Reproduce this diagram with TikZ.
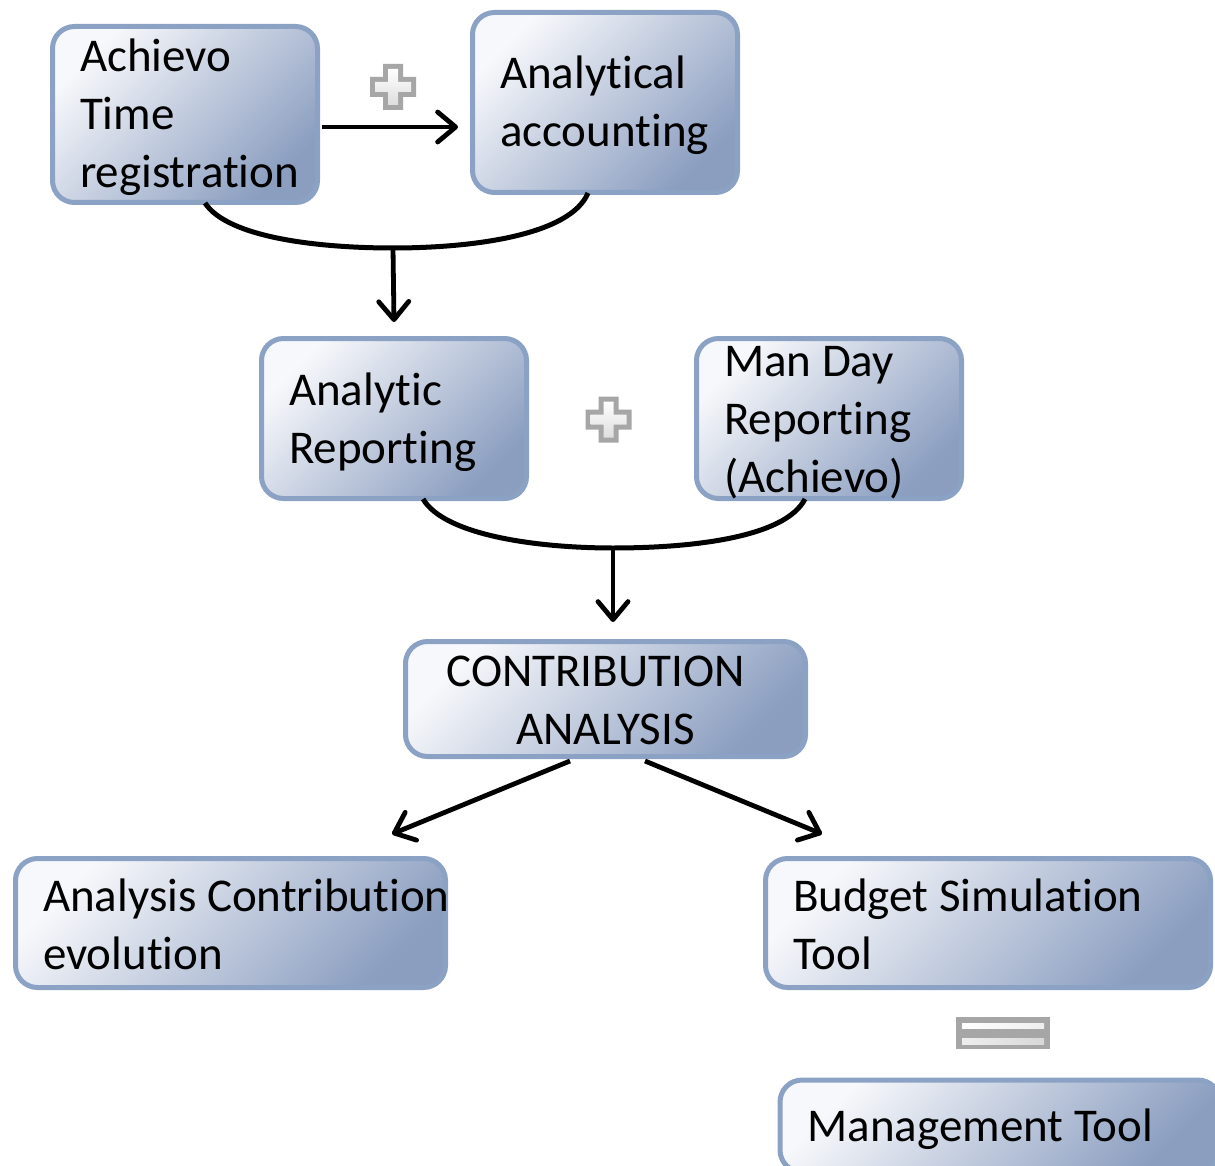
\documentclass[tikz,border=0pt]{standalone}
\usepackage{fontspec}
\setmainfont{Carlito}[RawFeature={-liga,-clig,-calt,-dlig}]
\usetikzlibrary{arrows.meta,calc}
\definecolor{bordc}{RGB}{139,162,197}
\definecolor{lightc}{RGB}{247,248,251}
\definecolor{darkc}{RGB}{139,158,192}
\definecolor{symgrey}{RGB}{166,166,166}
\definecolor{symlight}{RGB}{238,238,238}
\begin{document}
\begin{tikzpicture}[x=0.5pt,y=-0.5pt,
  box/.style={rounded corners=11pt, draw=bordc, line width=2.5pt,
    top color=lightc, bottom color=darkc, shading angle=45, inner sep=0pt},
  txt/.style={inner sep=0pt, align=flush left,
    font=\fontsize{23.5}{29.1}\selectfont},
  arr/.style={line width=2.4pt, -{Straight Barb[length=9pt,width=15pt,round]}},
  link/.style={line width=2.5pt}]
\clip (0,0) rectangle (1215,1166);
\fill[white] (0,0) rectangle (1215,1166);

% boxes
\node[box, minimum width=132.5pt, minimum height=88pt] (b1) at (185,114.5) {};
\node[txt, text width=105pt] (b1t) at ($(b1.center)+(0,3)$) {Achievo\\Time\\registration};
\node[box, minimum width=132.5pt, minimum height=90pt] (b2) at (605,102.5) {};
\node[txt, text width=105pt] (b2t) at ($(b2.center)+(0,3)$) {Analytical\\accounting};
\node[box, minimum width=132.5pt, minimum height=80pt] (b3) at (394,418.5) {};
\node[txt, text width=105pt] (b3t) at ($(b3.center)+(0,4)$) {Analytic\\Reporting};
\node[box, minimum width=132.5pt, minimum height=80pt] (b4) at (829,418.5) {};
\node[txt, text width=105pt] (b4t) at ($(b4.center)+(0,4)$) {Man Day\\Reporting\\(Achievo)};
\node[box, minimum width=200pt, minimum height=57.5pt] (b5) at (605.5,699) {};
\node[txt, text width=172.5pt, align=flush center] (b5t) at ($(b5.center)+(0,1.5)$)
  {\hspace*{-10pt}CONTRIBUTION\\ANALYSIS};
\node[box, minimum width=215pt, minimum height=64.5pt] (b6) at (230.5,923) {};
\node[txt, text width=187.5pt] (b6t) at ($(b6.center)+(0,1)$) {\mbox{Analysis Contribution}\\evolution};
\node[box, minimum width=222.5pt, minimum height=64.5pt] (b7) at (988,923) {};
\node[txt, text width=195pt] (b7t) at ($(b7.center)+(0,1)$) {Budget Simulation\\Tool};
\node[box, minimum width=220pt, minimum height=46pt] (b8) at (1000,1126) {};
\node[txt, text width=192.5pt] (b8t) at ($(b8.center)+(0,3)$) {Management Tool};

% plus signs
\foreach \cx/\cy in {393/87, 608.5/419.5}{
  \fill[symgrey] (\cx-10,\cy-23) -- (\cx+10,\cy-23) -- (\cx+10,\cy-10) -- (\cx+23,\cy-10)
    -- (\cx+23,\cy+10) -- (\cx+10,\cy+10) -- (\cx+10,\cy+23) -- (\cx-10,\cy+23)
    -- (\cx-10,\cy+10) -- (\cx-23,\cy+10) -- (\cx-23,\cy-10) -- (\cx-10,\cy-10) -- cycle;
  \shade[top color=white, bottom color=symlight!85!gray] (\cx-5,\cy-18) -- (\cx+5,\cy-18) -- (\cx+5,\cy-5) -- (\cx+18,\cy-5)
    -- (\cx+18,\cy+5) -- (\cx+5,\cy+5) -- (\cx+5,\cy+18) -- (\cx-5,\cy+18)
    -- (\cx-5,\cy+5) -- (\cx-18,\cy+5) -- (\cx-18,\cy-5) -- (\cx-5,\cy-5) -- cycle;
}

% equals sign
\fill[symgrey] (956,1017) rectangle (1050,1049);
\shade[left color=white, right color=symlight] (962,1023) rectangle (1044,1028);
\shade[left color=symlight, right color=symlight!80!gray] (962,1038) rectangle (1044,1044);

% connectors
\draw[arr] ($(b1.east)+(2,12.5)$) -- ($(b2.west)+(-12,24.5)$);

\coordinate (j1) at (393,248);
\draw[link] ($(b1.south)+(20,-2)$) .. controls (228,238) and (320,248) .. (j1)
  .. controls (470,248) and (570,236) .. ($(b2.south)+(-17,-2)$);
\draw[arr] (j1) -- ($(b3.north)+(0,-14)$);

\coordinate (j2) at (613,548);
\draw[link] ($(b3.south)+(29,-2)$) .. controls (445,536) and (540,548) .. (j2)
  .. controls (690,548) and (785,538) .. ($(b4.south)+(-24,-2)$);
\coordinate (t2) at (613,622);
\draw[arr] (j2) -- (t2);

\coordinate (t3) at (392,834);
\coordinate (t4) at (822,834);
\draw[arr] ($(b5.south)+(-35.5,2)$) -- (t3);
\draw[arr] ($(b5.south)+(39.5,2)$) -- (t4);
\end{tikzpicture}
\end{document}
